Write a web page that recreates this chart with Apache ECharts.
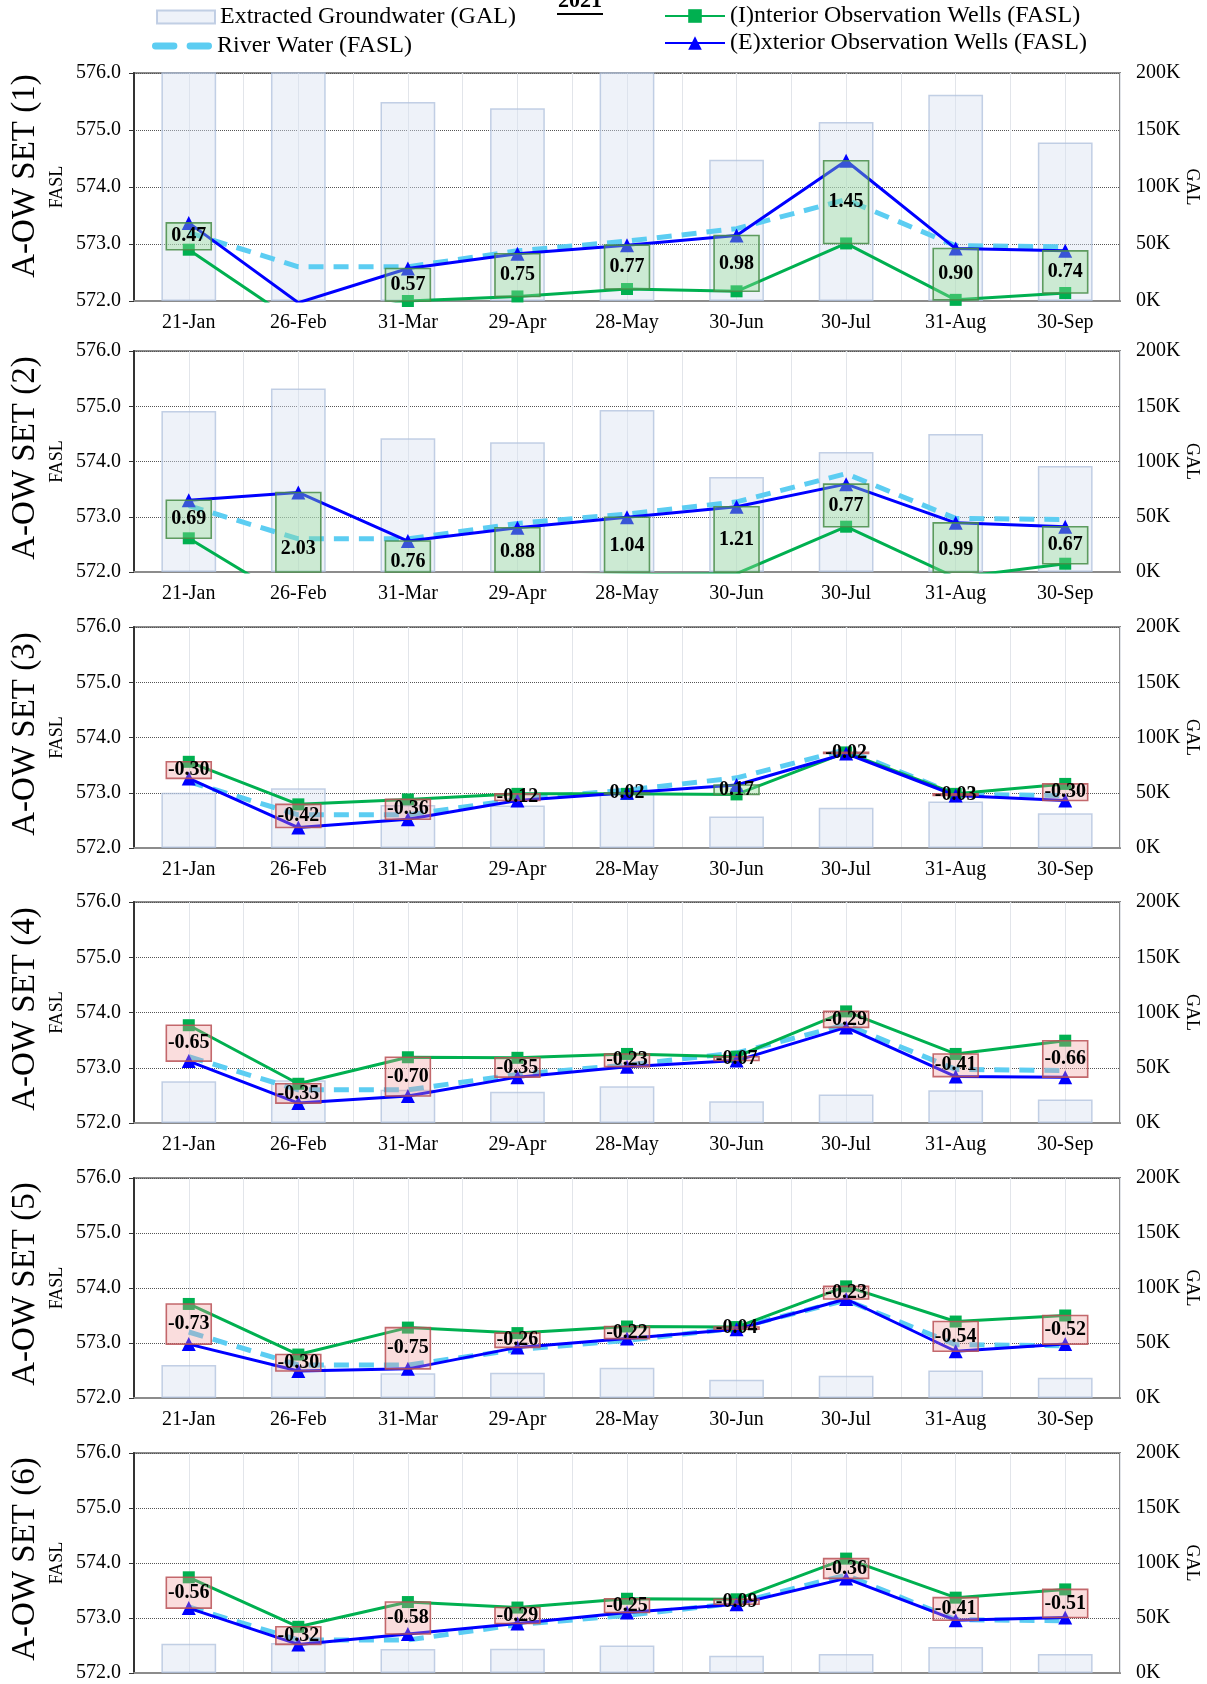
<!DOCTYPE html>
<html><head><meta charset="utf-8">
<script src="https://cdn.jsdelivr.net/npm/echarts@6/dist/echarts.min.js"></script>
<style>html,body{margin:0;padding:0;background:#fff;overflow:hidden}#c{width:1207px;height:1684px}</style>
</head><body><div id="c"></div>
<script>
// ---------- DATA ----------
const months = ['21-Jan','26-Feb','31-Mar','29-Apr','28-May','30-Jun','30-Jul','31-Aug','30-Sep'];
const setTitles = ['A-OW SET (1)','A-OW SET (2)','A-OW SET (3)','A-OW SET (4)','A-OW SET (5)','A-OW SET (6)'];
const riverWater = [573.20, 572.60, 572.60, 572.88, 573.05, 573.27, 573.78, 572.97, 572.95];

const groundwater1 = [210000, 206000, 174600, 169000, 203000, 124000, 157000, 181000, 139000];
const groundwater2 = [145600, 166000, 121000, 117500, 146600, 86000, 108700, 125000, 96000];
const groundwater3 = [50000, 54000, 39000, 38500, 49000, 28500, 36500, 42000, 31500];
const groundwater4 = [37800, 38700, 30000, 28200, 33300, 19600, 25700, 29600, 21200];
const groundwater5 = [30100, 29500, 22600, 22900, 27400, 16600, 20200, 25000, 18400];
const groundwater6 = [26600, 27300, 21800, 22100, 25100, 15700, 17300, 23600, 17300];

const exterior1 = [573.37, 571.97, 572.57, 572.83, 572.98, 573.15, 574.46, 572.92, 572.88];
const interior1 = [572.90, 571.60, 572.00, 572.08, 572.21, 572.17, 573.01, 572.02, 572.14];
const exterior2 = [573.30, 573.44, 572.56, 572.80, 572.99, 573.18, 573.59, 572.89, 572.82];
const interior2 = [572.61, 571.41, 571.80, 571.92, 571.95, 571.97, 572.82, 571.90, 572.15];
const exterior3 = [573.26, 572.37, 572.52, 572.86, 573.00, 573.14, 573.71, 572.95, 572.86];
const interior3 = [573.56, 572.79, 572.88, 572.98, 572.98, 572.97, 573.73, 572.98, 573.16];
const exterior4 = [573.12, 572.36, 572.49, 572.83, 573.02, 573.13, 573.73, 572.84, 572.83];
const interior4 = [573.77, 572.71, 573.19, 573.18, 573.25, 573.20, 574.02, 573.25, 573.49];
const exterior5 = [572.98, 572.49, 572.53, 572.92, 573.08, 573.25, 573.80, 572.85, 572.98];
const interior5 = [573.71, 572.79, 573.28, 573.18, 573.30, 573.29, 574.03, 573.39, 573.50];
const exterior6 = [573.18, 572.52, 572.71, 572.90, 573.10, 573.25, 573.72, 572.96, 573.01];
const interior6 = [573.74, 572.84, 573.29, 573.19, 573.35, 573.34, 574.08, 573.37, 573.52];

const groundwater = [groundwater1, groundwater2, groundwater3, groundwater4, groundwater5, groundwater6];
const exterior = [exterior1, exterior2, exterior3, exterior4, exterior5, exterior6];
const interior = [interior1, interior2, interior3, interior4, interior5, interior6];

// ---------- LAYOUT / STYLE ----------
const FONT = '"Liberation Serif", "Times New Roman", serif';
const gridTops = [73, 351, 627, 902, 1178, 1453];
const gridHeights = [228, 221, 221, 221, 220, 220];
const titleCenters = [176, 458, 734, 1009, 1284, 1559];
const GRID_LEFT = 134, GRID_WIDTH = 986;

const NAME_GW = 'Extracted Groundwater (GAL)';
const NAME_RIVER = 'River Water (FASL)';
const NAME_INT = '(I)nterior Observation Wells (FASL)';
const NAME_EXT = '(E)xterior Observation Wells (FASL)';

function renderDiff(params, api) {
  const i = api.value(0), a = api.value(1), b = api.value(2);
  const p1 = api.coord([i, a]), p2 = api.coord([i, b]);
  const cs = params.coordSys;
  const w = api.size([1, 0])[0] * 0.41;
  const top = Math.min(p1[1], p2[1]), bot = Math.max(p1[1], p2[1]);
  const ct = Math.max(top, cs.y), cb = Math.min(bot, cs.y + cs.height);
  if (cb < ct) return null;
  const pos = (b - a) >= 0;
  return {
    type: 'group',
    children: [
      { type: 'rect',
        shape: { x: p1[0] - w / 2, y: ct, width: w, height: Math.max(cb - ct, 0.5) },
        style: pos ? { fill: 'rgba(150,220,150,0.38)', stroke: 'rgba(70,140,70,0.85)', lineWidth: 1.6 }
                   : { fill: 'rgba(240,150,150,0.32)', stroke: 'rgba(185,80,85,0.85)', lineWidth: 1.6 } },
      { type: 'text', x: p1[0], y: (top + bot) / 2, z2: 10,
        style: { text: (b - a).toFixed(2), font: 'bold 20px ' + FONT, fill: '#000',
                 align: 'center', verticalAlign: 'middle' } }
    ]
  };
}

const legendText = { fontFamily: FONT, fontSize: 24, color: '#000' };
const option = {
  animation: false,
  backgroundColor: '#ffffff',
  legend: [
    { left: 156, top: 5, padding: 0, selectedMode: false, icon: 'rect', itemWidth: 58, itemHeight: 13,
      data: [NAME_GW], textStyle: legendText },
    { left: 152, top: 34, padding: 0, selectedMode: false, itemWidth: 60, itemHeight: 7,
      data: [{ name: NAME_RIVER, icon: 'path://M3,0 H19 A3,3 0 0 1 19,6 H3 A3,3 0 0 1 3,0 Z M33,0 H49 A3,3 0 0 1 49,6 H33 A3,3 0 0 1 33,0 Z' }],
      textStyle: legendText },
    { left: 664, top: 4, padding: 0, selectedMode: false, itemWidth: 60, itemHeight: 17,
      data: [NAME_INT], textStyle: legendText },
    { left: 664, top: 31, padding: 0, selectedMode: false, itemWidth: 60, itemHeight: 17,
      data: [NAME_EXT], textStyle: legendText }
  ],
  grid: [], xAxis: [], yAxis: [], series: [],
  graphic: [
    { type: 'text', x: 580, y: 12, style: { text: '2021', font: 'bold 22px ' + FONT, fill: '#000', align: 'center', verticalAlign: 'bottom' } },
    { type: 'line', shape: { x1: 557, y1: 14, x2: 603, y2: 14 }, style: { stroke: '#000', lineWidth: 2 } }
  ]
};

for (let i = 0; i < 6; i++) {
  option.grid.push({ left: GRID_LEFT, width: GRID_WIDTH, top: gridTops[i], height: gridHeights[i],
    outerBoundsMode: 'none', containLabel: false,
    show: true, borderColor: '#8c8c8c', borderWidth: 2, backgroundColor: 'transparent' });
  option.xAxis.push({
    type: 'category', gridIndex: i, data: months, boundaryGap: true,
    axisLine: { show: true, lineStyle: { color: '#8c8c8c', width: 2 } },
    axisTick: { show: false },
    axisLabel: { fontFamily: FONT, fontSize: 20, color: '#000', margin: 12 },
    splitLine: { show: false }
  });
  option.xAxis.push({
    type: 'value', gridIndex: i, min: 0, max: 9, interval: 0.5, position: 'top',
    axisLine: { show: false }, axisTick: { show: false }, axisLabel: { show: false },
    splitLine: { show: true, lineStyle: { color: '#e2e5ea', width: 1 } }
  });
  option.yAxis.push({
    type: 'value', gridIndex: i, min: 572, max: 576, interval: 1, position: 'left',
    name: 'FASL', nameLocation: 'middle', nameRotate: 90, nameGap: 68, nameMoveOverlap: false,
    nameTextStyle: { fontFamily: FONT, fontSize: 18, color: '#000' },
    axisLine: { show: true, lineStyle: { color: '#333', width: 2 } },
    axisTick: { show: true, length: 5, lineStyle: { color: '#333' } },
    axisLabel: { fontFamily: FONT, fontSize: 20, color: '#000', margin: 13, formatter: v => v.toFixed(1) },
    splitLine: { show: true, lineStyle: { color: '#555', width: 1, type: [1, 1] } }
  });
  option.yAxis.push({
    type: 'value', gridIndex: i, min: 0, max: 200000, interval: 50000, position: 'right',
    name: 'GAL', nameLocation: 'middle', nameRotate: -90, nameGap: 63, nameMoveOverlap: false,
    nameTextStyle: { fontFamily: FONT, fontSize: 18, color: '#000' },
    axisLine: { show: false }, axisTick: { show: false },
    axisLabel: { fontFamily: FONT, fontSize: 20, color: '#000', margin: 16, formatter: v => (v / 1000) + 'K' },
    splitLine: { show: false }
  });
  const xa = 2 * i, yl = 2 * i, yr = 2 * i + 1;
  option.series.push({
    name: NAME_GW, type: 'bar', xAxisIndex: xa, yAxisIndex: yr, data: groundwater[i], barWidth: '50%', z: 1,
    itemStyle: { color: 'rgba(214,224,240,0.42)', borderColor: 'rgba(175,192,220,0.75)', borderWidth: 1.5 }
  });
  option.series.push({
    name: NAME_RIVER, type: 'line', xAxisIndex: xa, yAxisIndex: yl, data: riverWater, z: 3,
    showSymbol: false, symbol: 'none', color: '#5ccdf2',
    lineStyle: { color: '#5ccdf2', width: 5, type: [15, 10] }
  });
  option.series.push({
    name: NAME_INT, type: 'line', xAxisIndex: xa, yAxisIndex: yl, data: interior[i], z: 3,
    symbol: 'rect', symbolSize: 12, color: '#00b050',
    lineStyle: { color: '#00b050', width: 3 }, itemStyle: { color: '#00b050' }
  });
  option.series.push({
    name: NAME_EXT, type: 'line', xAxisIndex: xa, yAxisIndex: yl, data: exterior[i], z: 3,
    symbol: 'triangle', symbolSize: 14, color: '#0000ff',
    lineStyle: { color: '#0000ff', width: 3 }, itemStyle: { color: '#0000ff' }
  });
  option.series.push({
    type: 'custom', xAxisIndex: xa, yAxisIndex: yl, z: 4, renderItem: renderDiff,
    encode: { x: 0, y: [1, 2] },
    data: months.map((m, k) => [k, interior[i][k], exterior[i][k]])
  });
  option.graphic.push({
    type: 'text', x: 25, y: titleCenters[i], rotation: Math.PI / 2,
    style: { text: setTitles[i], font: '33px ' + FONT, fill: '#000', align: 'center', verticalAlign: 'middle' }
  });
}

const chart = echarts.init(document.getElementById('c'), null, { renderer: 'canvas' });
chart.setOption(option);
</script></body></html>
